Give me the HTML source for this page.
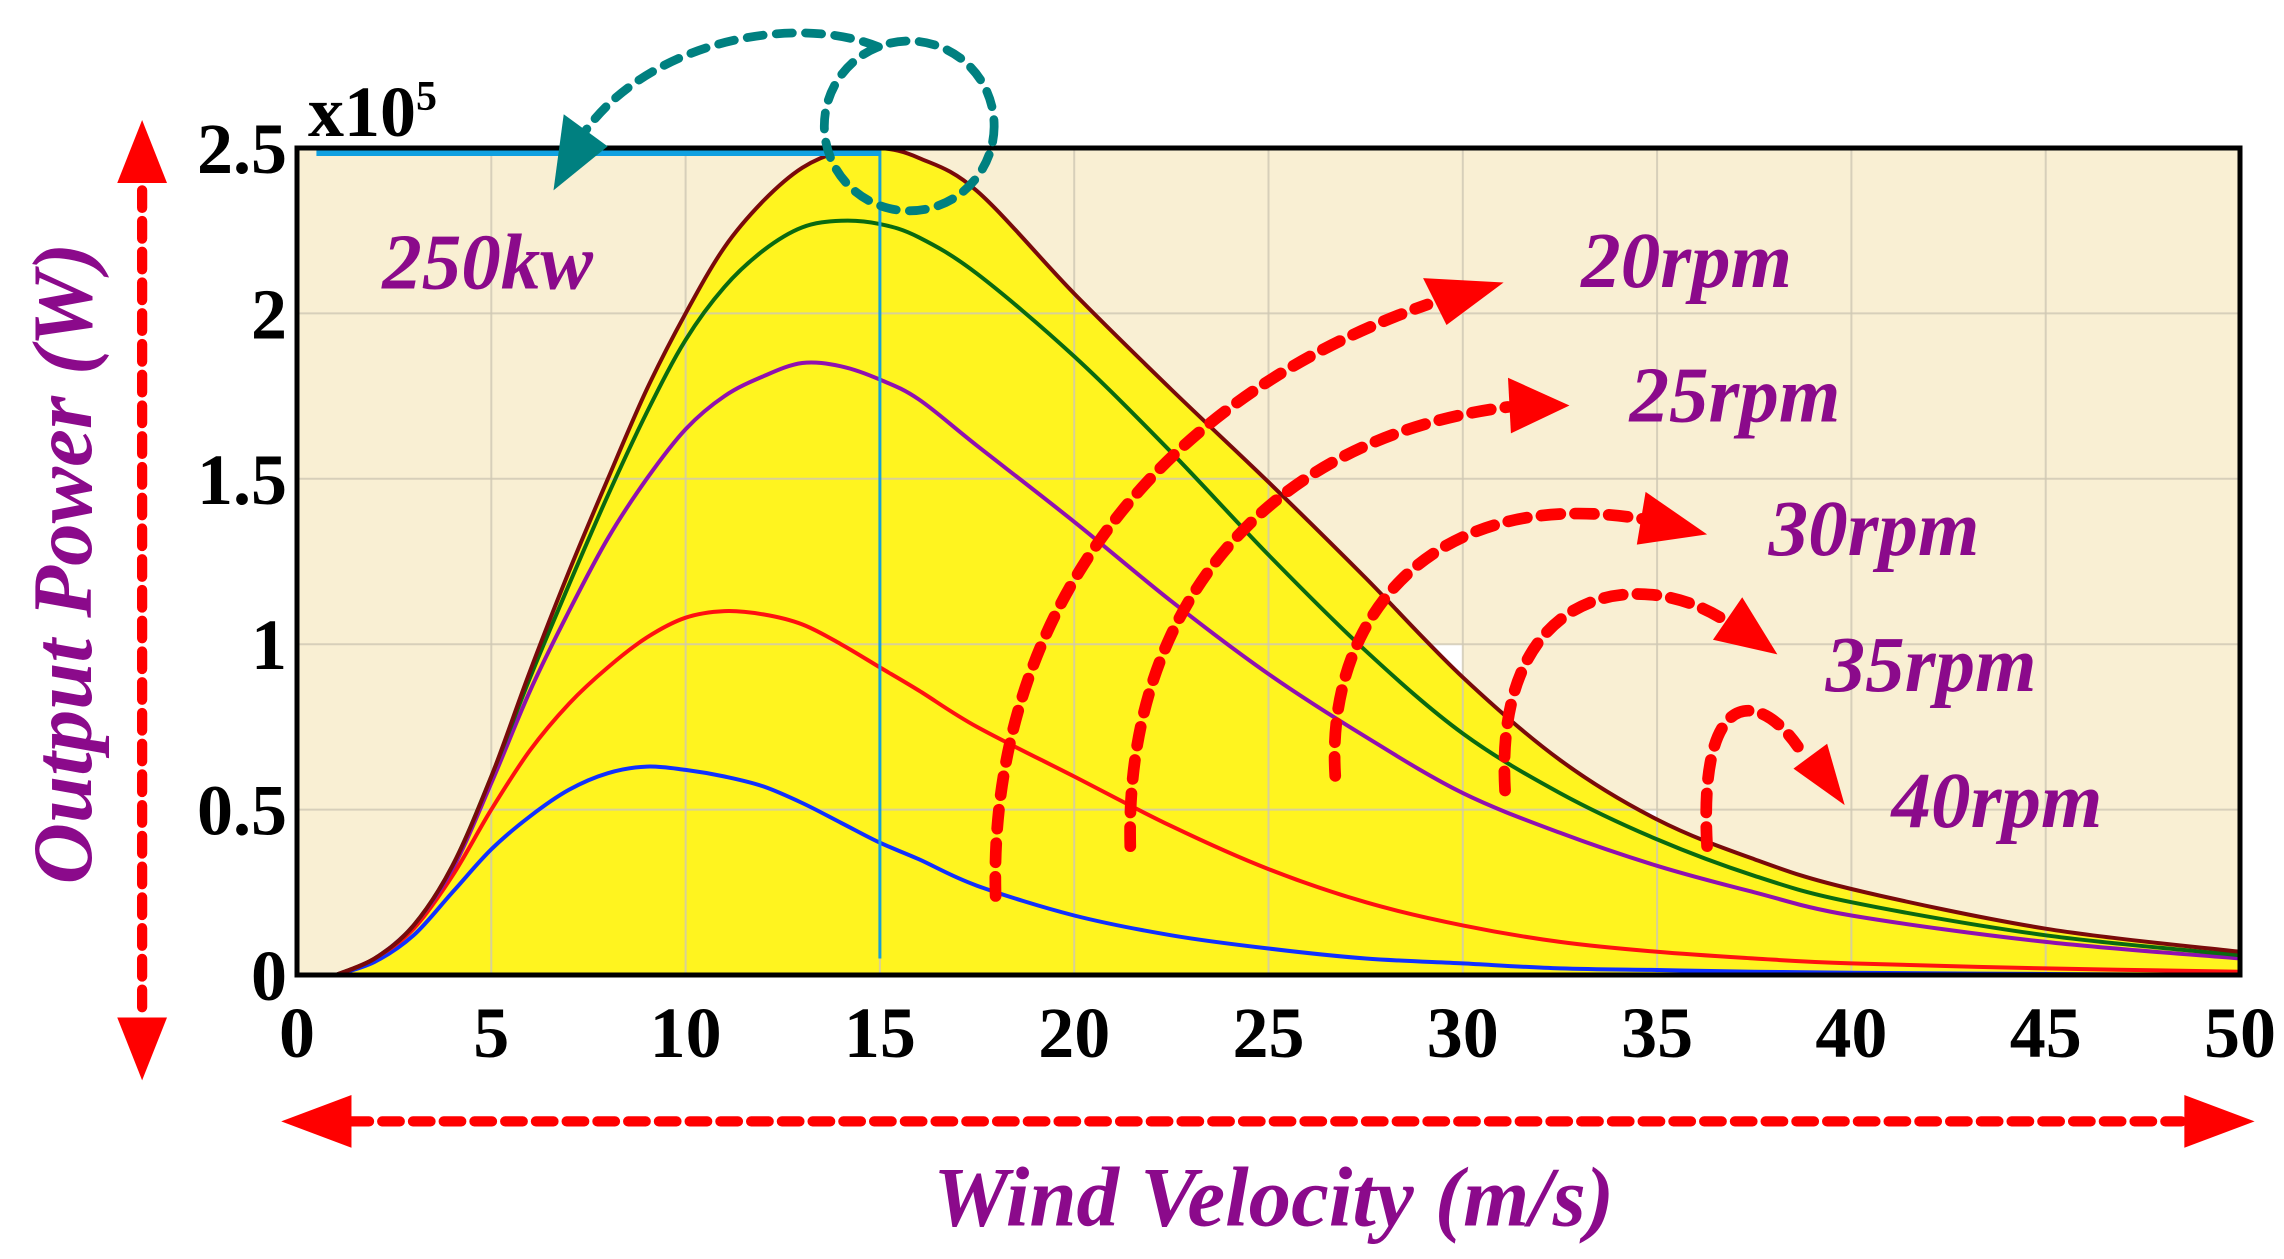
<!DOCTYPE html>
<html><head><meta charset="utf-8"><style>
html,body{margin:0;padding:0;background:#fff;}
svg{position:absolute;left:0;top:0;}
.tick{font-family:"Liberation Serif",serif;font-weight:bold;font-size:72px;fill:#000;}
.lab{font-family:"Liberation Serif",serif;font-weight:bold;font-style:italic;fill:#8b0a8b;}
</style></head><body>
<svg id="chart" width="2284" height="1259" viewBox="0 0 2284 1259">
  <g id="plot"></g>
</svg>
<svg id="anno" width="2284" height="1259" viewBox="0 0 1560 860">
  <ellipse cx="621" cy="86" rx="58" ry="58" fill="none" stroke="#008080" stroke-width="6" stroke-dasharray="11 9" stroke-linecap="round"/>
  <path d="M600,32 C540,8 440,30 398,92" fill="none" stroke="#008080" stroke-width="6" stroke-dasharray="11 9" stroke-linecap="round"/>
  <polygon points="378,130 385,78 415,100" fill="#008080"/>
  <line x1="97" y1="130" x2="97" y2="690" stroke="#ff0000" stroke-width="7" stroke-dasharray="12 9" stroke-linecap="round"/>
  <polygon points="97,82 80,125 114,125" fill="#ff0000"/>
  <polygon points="97,738 80,695 114,695" fill="#ff0000"/>
  <line x1="240" y1="766" x2="1490" y2="766" stroke="#ff0000" stroke-width="7" stroke-dasharray="12 9" stroke-linecap="round"/>
  <polygon points="192,766 240,748 240,784" fill="#ff0000"/>
  <polygon points="1540,766 1492,748 1492,784" fill="#ff0000"/>
  <g fill="none" stroke="#ff0000" stroke-width="8" stroke-dasharray="13 10" stroke-linecap="round">
    <path d="M680,612 C675,440 770,280 975,208"/>
    <path d="M772,578 C768,420 860,300 1030,278"/>
    <path d="M912,530 C905,420 980,330 1125,355"/>
    <path d="M1028,540 C1020,400 1120,385 1180,425"/>
    <path d="M1166,578 C1160,470 1200,470 1228,510"/>
  </g>
  <g fill="#ff0000">
    <polygon points="1027,193 972,190 988,222"/>
    <polygon points="1072,277 1030,258 1032,296"/>
    <polygon points="1166,365 1124,336 1118,372"/>
    <polygon points="1214,447 1170,437 1190,408"/>
    <polygon points="1260,550 1225,525 1248,508"/>
  </g>
  <text class="lab" x="261" y="197" font-size="54">250kw</text>
  <text class="lab" x="1080" y="196" font-size="54">20rpm</text>
  <text class="lab" x="1113" y="288" font-size="54">25rpm</text>
  <text class="lab" x="1208" y="379" font-size="54">30rpm</text>
  <text class="lab" x="1247" y="472" font-size="54">35rpm</text>
  <text class="lab" x="1292" y="565" font-size="54">40rpm</text>
  <text class="lab" x="870" y="837" font-size="58" text-anchor="middle">Wind Velocity (m/s)</text>
  <text class="lab" transform="translate(62,385) rotate(-90)" font-size="58" text-anchor="middle">Output Power (W)</text>
</svg>
<script>
const xs      = [1,2,3,4,5,6,7,8,9,10,11,12,13,14,15,16,17.5,20,22.5,25,27.5,30,32.5,35,37.5,40,45,50];
const rpm20   = [0,0.05,0.15,0.33,0.6,0.92,1.22,1.5,1.77,2.0,2.2,2.34,2.44,2.49,2.5,2.47,2.37,2.06,1.77,1.49,1.2,0.9,0.65,0.47,0.35,0.26,0.14,0.07];
const rpm25   = [0,0.05,0.15,0.33,0.6,0.9,1.18,1.45,1.7,1.92,2.08,2.19,2.26,2.28,2.27,2.23,2.12,1.87,1.58,1.27,0.98,0.73,0.55,0.41,0.3,0.22,0.12,0.06];
const rpm30   = [0,0.05,0.15,0.32,0.58,0.86,1.1,1.32,1.5,1.65,1.75,1.81,1.85,1.84,1.8,1.74,1.6,1.37,1.13,0.91,0.72,0.55,0.43,0.33,0.25,0.18,0.1,0.05];
const rpm35   = [0,0.05,0.14,0.3,0.5,0.68,0.82,0.93,1.02,1.08,1.1,1.09,1.06,1.0,0.93,0.86,0.75,0.6,0.45,0.32,0.22,0.15,0.1,0.07,0.05,0.035,0.02,0.01];
const rpm40   = [0,0.04,0.12,0.25,0.38,0.48,0.56,0.61,0.63,0.62,0.6,0.57,0.52,0.46,0.4,0.35,0.27,0.18,0.12,0.08,0.05,0.035,0.02,0.015,0.01,0.007,0.003,0];
const xTicks  = [0,5,10,15,20,25,30,35,40,45,50];
const yTicks  = [0,0.5,1,1.5,2,2.5];
const yTickLabels = ["0","0.5","1","1.5","2","2.5"];

const X0=297,X1=2240,Y0=975,Y1=148,XMAX=50,YMAX=2.5;
const sx=v=>X0+(X1-X0)*v/XMAX;
const sy=v=>Y0-(Y0-Y1)*v/YMAX;
const NS="http://www.w3.org/2000/svg";
const g=document.getElementById('plot');
function mk(tag,attrs,parent){const e=document.createElementNS(NS,tag);for(const k in attrs)e.setAttribute(k,attrs[k]);(parent||g).appendChild(e);return e;}
function smooth(vals){
  const p=xs.map((x,i)=>[sx(x),sy(vals[i])]);
  let d="M"+p[0][0]+","+p[0][1];
  for(let i=0;i<p.length-1;i++){
    const a=p[Math.max(0,i-1)],b=p[i],c=p[i+1],e=p[Math.min(p.length-1,i+2)];
    const c1=[b[0]+(c[0]-a[0])/6,b[1]+(c[1]-a[1])/6],c2=[c[0]-(e[0]-b[0])/6,c[1]-(e[1]-b[1])/6];
    d+=" C"+c1[0].toFixed(1)+","+c1[1].toFixed(1)+" "+c2[0].toFixed(1)+","+c2[1].toFixed(1)+" "+c[0].toFixed(1)+","+c[1].toFixed(1);
  }
  return d;
}
let el=mk('rect',{x:X0,y:Y1,width:X1-X0,height:Y0-Y1,fill:'#f9efd3'});


el=mk('rect',{x:sx(25),y:sy(1),width:sx(30)-sx(25),height:sy(0.5)-sy(1),fill:'#ffffff'});


el=mk('rect',{x:sx(30),y:sy(0.5),width:sx(35)-sx(30),height:sy(0)-sy(0.5),fill:'#ffffff'});


el=mk('path',{d:smooth(rpm20)+" L"+sx(50)+","+sy(0)+" L"+sx(1)+","+sy(0)+" Z",fill:'#fff41f'});


xTicks.forEach((t,i)=>{
  if(t>0&&t<50){const l=mk('line',{x1:sx(t),x2:sx(t),y1:Y1,y2:Y0,stroke:'#cfc8b4','stroke-width':2,opacity:0.8});
  
  }
  const tx=mk('text',{x:sx(t),y:1057,'text-anchor':'middle',class:'tick'});tx.textContent=t;
  
  
});
yTicks.forEach((t,i)=>{
  if(t>0&&t<2.5){const l=mk('line',{x1:X0,x2:X1,y1:sy(t),y2:sy(t),stroke:'#cfc8b4','stroke-width':2,opacity:0.8});
  
  }
  const tx=mk('text',{x:287,y:sy(t)+25,'text-anchor':'end',class:'tick'});tx.textContent=yTickLabels[i];
  
  
});
const series=[[rpm40,'#1030ff','curve-40rpm'],[rpm35,'#ff1010','curve-35rpm'],[rpm30,'#9010b0','curve-30rpm'],[rpm25,'#0a6a10','curve-25rpm'],[rpm20,'#7a0a0a','curve-20rpm']];
series.forEach(s=>{
  const p=mk('path',{d:smooth(s[0]),fill:'none',stroke:s[1],'stroke-width':4});
  
  
});
el=mk('line',{x1:sx(15),x2:sx(15),y1:Y1,y2:sy(0.05),stroke:'#1a9fd6','stroke-width':3});


el=mk('line',{x1:sx(0.5),x2:sx(15),y1:Y1+5,y2:Y1+5,stroke:'#10a0e0','stroke-width':6});


el=mk('rect',{x:X0,y:Y1,width:X1-X0,height:Y0-Y1,fill:'none',stroke:'#000','stroke-width':5});


const ex=mk('text',{x:308,y:136,class:'tick','font-size':'62'});ex.innerHTML='x10<tspan dy="-26" font-size="42">5</tspan>';


</script>
</body></html>
